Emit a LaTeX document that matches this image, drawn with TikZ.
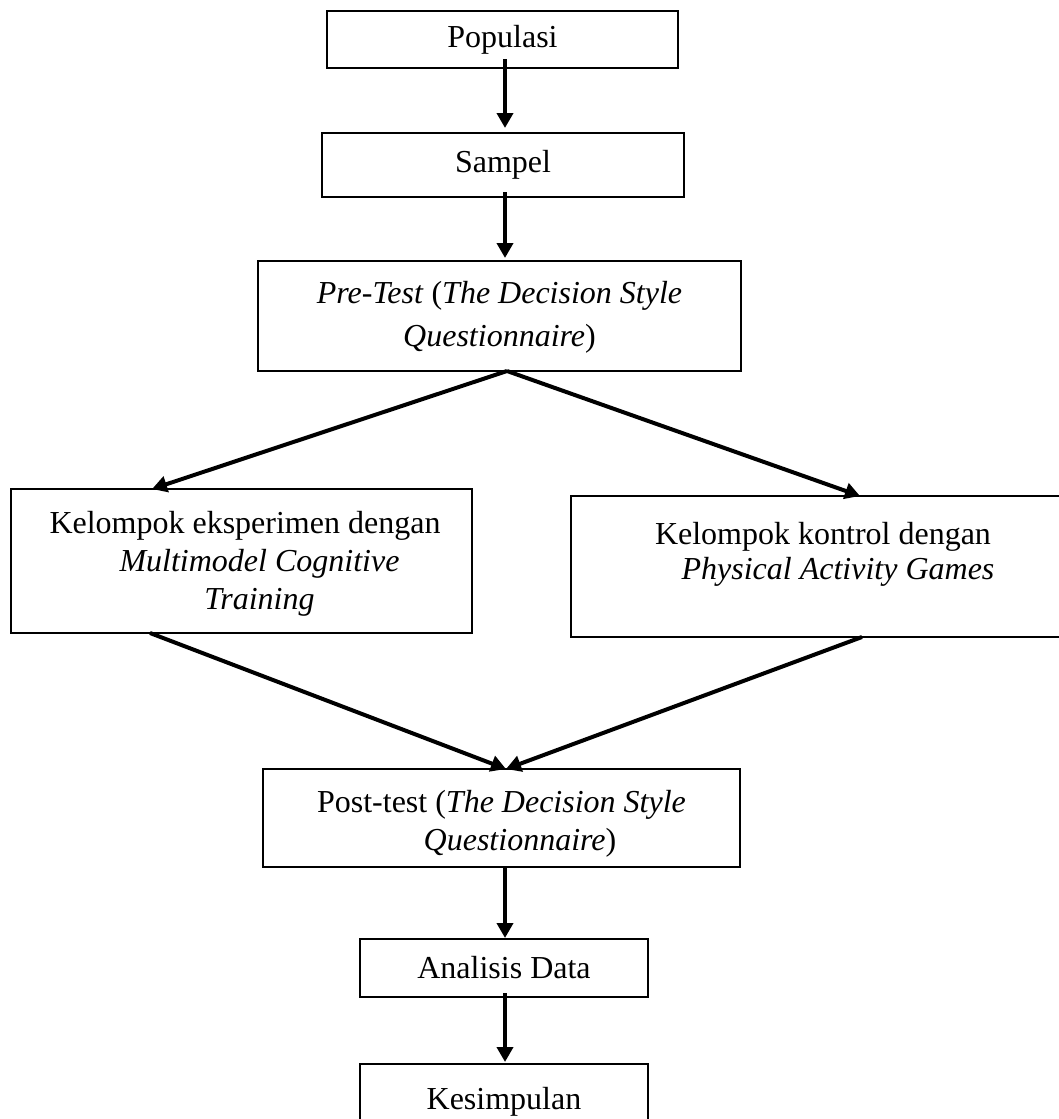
\documentclass[tikz,border=0pt]{standalone}
\usepackage{fontspec}
\setmainfont{Liberation Serif}
\usetikzlibrary{arrows.meta}
\newcommand{\mlbox}[1]{\begin{tabular}{@{}c@{}}#1\end{tabular}}
\begin{document}
\begin{tikzpicture}[x=0.5pt,y=-0.5pt,
  box/.style={draw=black, line width=1pt, rectangle, inner sep=0pt, outer sep=0pt, font=\fontsize{16}{19}\selectfont},
  arr/.style={line width=2pt, -{Triangle[length=7.5pt,width=8pt]}}]
\useasboundingbox (0,0) rectangle (1059,1119);
\node[box, minimum width=175.5pt, minimum height=28.5pt] (pop) at (502.5,39.5) {Populasi};
\node[box, minimum width=181pt, minimum height=32pt] (sam) at (503,165) {Sampel};
\node[box, minimum width=241.5pt, minimum height=55pt, font=\fontsize{16}{21.5}\selectfont] (pre) at (499.5,316)
  {\mlbox{\textit{Pre-Test} (\textit{The Decision Style}\\ \textit{Questionnaire})}};
\node[box, minimum width=230.5pt, minimum height=72pt, font=\fontsize{16}{19}\selectfont] (left) at (241.5,561)
  {\mlbox{\rule{0pt}{16.3pt}\hspace*{3.5pt}Kelompok eksperimen dengan\\ \hspace*{18pt}\textit{Multimodel Cognitive}\\ \hspace*{18pt}\textit{Training}}};
\node[box, minimum width=247pt, minimum height=70.5pt, font=\fontsize{16}{17.5}\selectfont] (right) at (818,566.5)
  {\mlbox{\hspace*{5pt}Kelompok kontrol dengan\\ \hspace*{20pt}\textit{Physical Activity Games}\\[11.3pt]}};
\node[box, minimum width=238.5pt, minimum height=49pt, font=\fontsize{16}{19}\selectfont] (post) at (501.5,818)
  {\mlbox{\rule{0pt}{18.7pt}Post-test (\textit{The Decision Style}\\ \hspace*{18.5pt}\textit{Questionnaire})}};
\node[box, minimum width=144pt, minimum height=29pt] (ana) at (504,968) {Analisis Data};
\node[box, minimum width=144pt, minimum height=38pt] (kes) at (504,1102) {Kesimpulan};
\draw[arr] ([shift={(2.5,-9)}]pop.south) -- ([shift={(2,-5)}]sam.north);
\draw[arr] ([shift={(2,-5)}]sam.south) -- ([shift={(5.5,-3)}]pre.north);
\draw[arr] ([shift={(7.5,0)}]pre.south) -- ([shift={(-89.5,0)}]left.north);
\draw[arr] ([shift={(7.5,0)}]pre.south) -- ([shift={(42,0)}]right.north);
\draw[arr] ([shift={(-91.5,0)}]left.south) -- ([shift={(4.5,0)}]post.north);
\draw[arr] ([shift={(44,0)}]right.south) -- ([shift={(4.5,0)}]post.north);
\draw[arr] ([shift={(3.5,0)}]post.south) -- ([shift={(1,-1)}]ana.north);
\draw[arr] ([shift={(1,-4)}]ana.south) -- ([shift={(1,-2)}]kes.north);
\end{tikzpicture}
\end{document}
